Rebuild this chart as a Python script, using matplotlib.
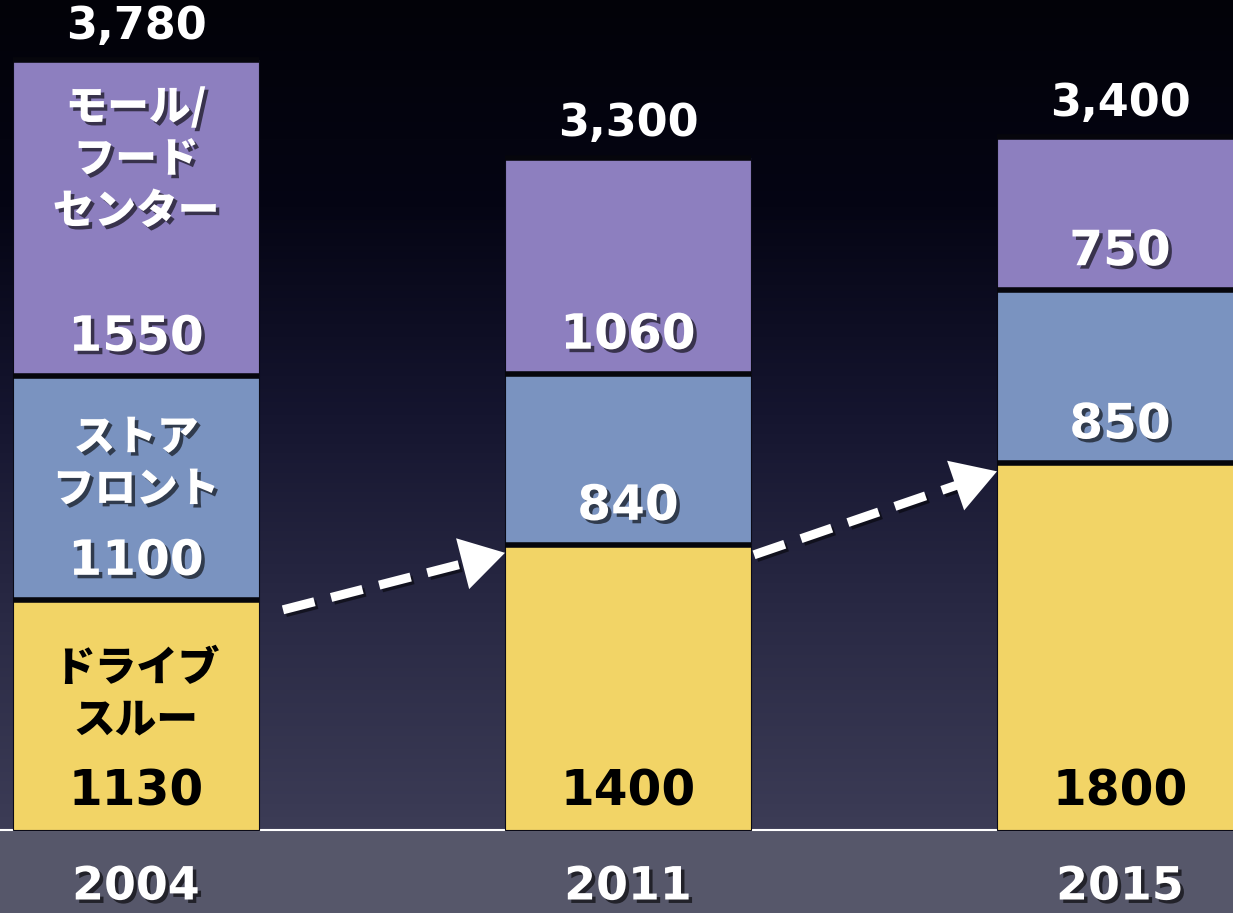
import numpy as np
import matplotlib
matplotlib.use("Agg")
import matplotlib.pyplot as plt
import matplotlib.patheffects as pe
from matplotlib.colors import LinearSegmentedColormap

# store counts by format and year
years = ["2004", "2011", "2015"]
drive_thru = [1130, 1400, 1800]
storefront = [1100, 840, 850]
mall_food = [1550, 1060, 750]
totals = ["3,780", "3,300", "3,400"]
seg_names = ["ドライブ\nスルー", "ストア\nフロント", "モール/\nフード\nセンター"]

plt.rcParams['font.family'] = ['Noto Sans CJK JP', 'DejaVu Sans']

W, H = 1233, 913
fig = plt.figure(figsize=(W / 100, H / 100), dpi=100)
ax = fig.add_axes([0, 0, 1, 1])

# pixel scale: 0.2037 px per store, 492 px between bars
px_per_unit = 0.2037
x_unit = 492.0
ymin, ymax = -83 / px_per_unit, 830 / px_per_unit
xmin, xmax = -136 / x_unit, (W - 136) / x_unit
ax.set_xlim(xmin, xmax)
ax.set_ylim(ymin, ymax)
ax.axis("off")

# background: dark navy fading to slate
bg = LinearSegmentedColormap.from_list(
    "bg", ["#3c3c56", "#2a2a45", "#15152f", "#050514", "#020208"])
grad = np.linspace(0, 1, 256).reshape(-1, 1)
ax.imshow(grad, cmap=bg, aspect="auto", origin="lower",
          extent=(xmin, xmax, 0, ymax), zorder=0)
ax.axhspan(ymin, 0, color="#56576a", zorder=0)
ax.axhline(0, color="white", lw=1.5, zorder=1)

x = np.arange(len(years))
bw = 0.5
drive = np.array(drive_thru)
store = np.array(storefront)
mall = np.array(mall_food)
layers = [(drive, 0 * drive, "#f2d466"),
          (store, drive, "#7a93c0"),
          (mall, drive + store, "#8d7fbf")]

for vals, bottom, col in layers:
    ax.bar(x, vals, bw, bottom=bottom, color=col, edgecolor="#0b0b18",
           linewidth=0.8, zorder=2)

# dark seams between stacked segments and above each bar
for vals, bottom, col in layers:
    top = bottom + vals
    ax.hlines(top, x - bw / 2, x + bw / 2, color="#06060c", lw=4, zorder=2.5)

shadow = [pe.withSimplePatchShadow(offset=(2.5, -2.5), shadow_rgbFace="black", alpha=0.6)]
lab_off = 39 / px_per_unit
for i in range(len(years)):
    for j, (vals, bottom, col) in enumerate(layers):
        tc = "black" if j == 0 else "white"
        ax.text(x[i], bottom[i] + lab_off, str(vals[i]), ha="center", va="center",
                fontsize=35, fontweight="bold", family="DejaVu Sans", color=tc,
                path_effects=shadow if j else None, zorder=4)
    top = drive[i] + store[i] + mall[i]
    ax.text(x[i], top + 34 / px_per_unit, totals[i], ha="center", va="center",
            fontsize=32, fontweight="bold", family="DejaVu Sans", color="white", zorder=4)
    ax.text(x[i], -57 / px_per_unit, years[i], ha="center", va="center",
            fontsize=33, fontweight="bold", family="DejaVu Sans", color="white",
            path_effects=shadow, zorder=4)

# segment names on the first bar
name_pos = [(830 - 695) / px_per_unit, (830 - 464) / px_per_unit, (830 - 160) / px_per_unit]
for j, name in enumerate(seg_names):
    tc = "black" if j == 0 else "white"
    ax.text(x[0], name_pos[j], name, ha="center", va="center", fontsize=30,
            fontweight="heavy", color=tc, linespacing=1.3,
            path_effects=shadow if j else None, zorder=4)

# dashed growth arrows between drive-thru tops
line_fx = [pe.SimpleLineShadow(offset=(2, -2), alpha=0.5), pe.Normal()]
start_gap = [24, 3]
for i in range(len(years) - 1):
    x0 = x[i] + bw / 2 + start_gap[i] / x_unit
    y0 = drive[i] - 10 / px_per_unit
    x1 = x[i + 1] - bw / 2
    y1 = drive[i + 1] - 8 / px_per_unit
    # stop the dashes just short of the head
    hx = 30 / x_unit
    t = 1 - hx / (x1 - x0)
    xm, ym = x0 + (x1 - x0) * t, y0 + (y1 - y0) * t
    ax.plot([x0, xm], [y0, ym], color="white", lw=6.5, ls=(0, (3.6, 1.9)),
            dash_capstyle="butt", path_effects=line_fx, zorder=3)
    ax.annotate("", xy=(x1, y1), xytext=(xm, ym),
                arrowprops=dict(arrowstyle="-|>,head_length=0.75,head_width=0.45",
                                color="white", lw=0, mutation_scale=42,
                                shrinkA=0, shrinkB=0),
                zorder=3)

fig.savefig("out.png", dpi=100, facecolor="black")
